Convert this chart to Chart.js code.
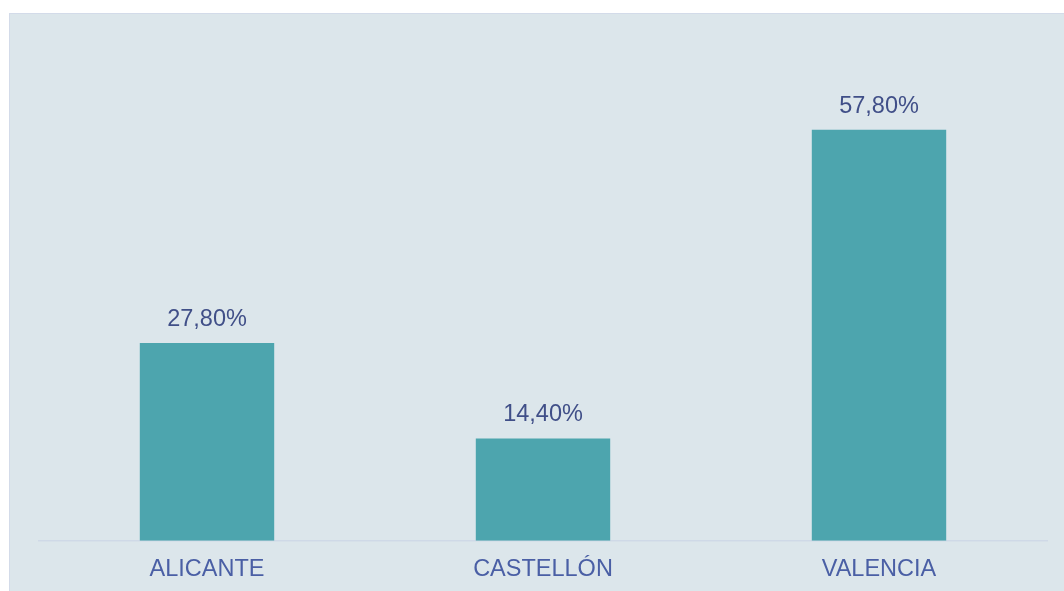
<!DOCTYPE html>
<html>
<head>
<meta charset="utf-8">
<script src="https://cdn.jsdelivr.net/npm/chart.js@4"></script>
<style>
body{margin:0;background:#fff;overflow:hidden}
#panel{position:absolute;left:9px;top:13px;width:1100px;height:640px;background:#dce6eb;border:1px solid #d3dbe9}
#wrap{position:absolute;left:0;top:0;width:1064px;height:591px}
</style>
</head>
<body>
<div id="panel"></div>
<div id="wrap"><canvas id="chart"></canvas></div>
<script>

const provincias = ["ALICANTE", "CASTELLÓN", "VALENCIA"]
const porcentajes = [27.8, 14.4, 57.8]

// etiquetas encima de cada barra
const valueLabels = {
    id: "valueLabels",
    afterDatasetsDraw(chart){
        const ctx = chart.ctx
        const meta = chart.getDatasetMeta(0)
        ctx.save()
        ctx.font = "23.5px 'Liberation Sans', Arial, sans-serif"
        ctx.fillStyle = "#404f88"
        ctx.textAlign = "center"
        ctx.textBaseline = "alphabetic"
        meta.data.forEach(function(bar, i){
            const txt = porcentajes[i].toFixed(2).replace(".", ",") + "%"
            ctx.fillText(txt, bar.x, bar.y - 17)
        })
        ctx.restore()
    }
}

new Chart(document.getElementById("chart"), {
    type: "bar",
    data: {
        labels: provincias,
        datasets: [{
            data: porcentajes,
            backgroundColor: "#4da5ae",
            categoryPercentage: 1,
            barPercentage: 0.4
        }]
    },
    options: {
        responsive: true,
        maintainAspectRatio: false,
        animation: false,
        layout: {padding: {left: 39, right: 17, top: 43, bottom: -8}},
        plugins: {legend: {display: false}, tooltip: {enabled: false}},
        scales: {
            x: {
                grid: {display: false, drawTicks: false},
                border: {display: true, color: "#cfd9e7", width: 1.5},
                ticks: {
                    padding: 15,
                    color: "#4a5fa5",
                    font: {family: "'Liberation Sans', Arial, sans-serif", size: 23.5}
                }
            },
            y: {
                display: false,
                min: 0,
                max: 70
            }
        }
    },
    plugins: [valueLabels]
})
</script>
</body>
</html>
